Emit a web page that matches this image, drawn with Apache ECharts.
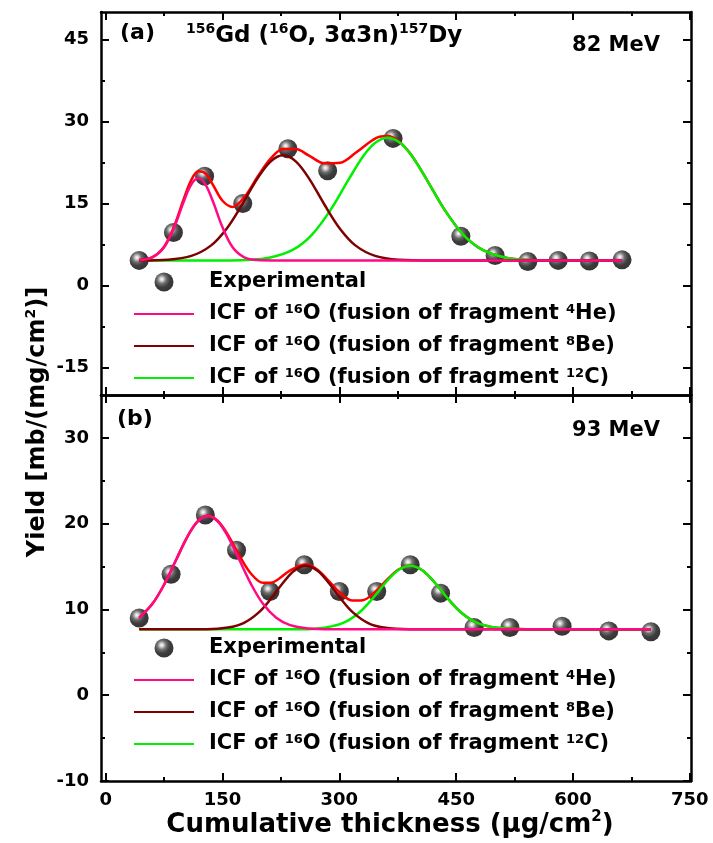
<!DOCTYPE html>
<html><head><meta charset="utf-8">
<script src="https://cdn.jsdelivr.net/npm/echarts@6/dist/echarts.min.js"></script>
<style>html,body{margin:0;padding:0;background:#fff}#c{width:713px;height:843px}</style>
</head><body><div id="c"></div>
<script>
// ---- data ----
// panel (a) 82 MeV
const thickA = [43, 87, 127, 176, 234, 285, 369, 456, 500, 542, 581, 621, 663];
const yieldA = [4.6, 9.7, 20.0, 15.0, 25.0, 21.0, 26.9, 9.0, 5.5, 4.4, 4.6, 4.5, 4.7];
const fitA_sum = [[43,4.66],[60,5.19],[75,7.1],[88,10.88],[100,15.74],[110,19.32],[119,20.9],[128,20.5],[138,18.34],[150,15.5],[163,14.38],[178,16.14],[195,19.88],[212,23.24],[228,24.95],[244,24.94],[261,23.75],[281,22.34],[301,22.45],[321,24.26],[347,26.96],[362,27.33],[377,26.3],[392,23.94],[412,19.42],[434,14.11],[459,9.33],[484,6.51],[514,5.09],[544,4.69],[580,4.6],[663,4.6]];
const fitA_He4 = [[43,4.66],[60,5.16],[75,7.0],[88,10.65],[100,15.27],[110,18.5],[119,19.6],[128,18.5],[138,15.27],[150,10.65],[163,7.0],[178,5.16],[195,4.66],[215,4.6],[400,4.6],[663,4.6]];
const fitA_Be8 = [[43,4.6],[80,4.73],[110,5.42],[135,7.3],[155,10.35],[175,14.77],[195,19.6],[212,22.7],[228,23.8],[244,22.7],[261,19.6],[281,14.77],[301,10.35],[321,7.3],[346,5.42],[376,4.73],[420,4.6],[663,4.6]];
const fitA_C12 = [[43,4.6],[150,4.6],[180,4.69],[210,5.09],[240,6.51],[265,9.33],[290,14.11],[312,19.42],[332,23.9],[347,26.18],[362,27.0],[377,26.18],[392,23.9],[412,19.42],[434,14.11],[459,9.33],[484,6.51],[514,5.09],[544,4.69],[580,4.6],[663,4.6]];
// panel (b) 93 MeV
const thickB = [43, 84, 128, 168, 211, 255, 300, 348, 391, 430, 473, 519, 586, 646, 700];
const yieldB = [9.0, 14.1, 21.0, 16.9, 12.1, 15.2, 12.1, 12.1, 15.2, 11.9, 7.9, 7.9, 8.05, 7.5, 7.4];
const fitB_sum = [[43,9.02],[60,10.65],[75,12.89],[90,15.7],[105,18.5],[118,20.27],[131,20.95],[144,20.32],[157,18.69],[172,16.23],[187,14.13],[202,13.1],[212,13.11],[222,13.55],[237,14.56],[257,15.25],[272,14.64],[287,13.28],[302,11.85],[317,11.03],[330,11.07],[346,12.04],[361,13.44],[376,14.65],[391,15.13],[406,14.6],[421,13.29],[436,11.63],[456,9.68],[477,8.43],[502,7.86],[540,7.7],[700,7.7]];
const fitB_He4 = [[43,9.02],[60,10.65],[75,12.89],[90,15.7],[105,18.5],[118,20.25],[131,20.9],[144,20.25],[157,18.5],[172,15.7],[187,12.89],[202,10.65],[219,9.02],[236,8.2],[260,7.79],[290,7.7],[450,7.7],[700,7.7]];
const fitB_Be8 = [[43,7.7],[130,7.7],[157,7.89],[177,8.41],[197,9.69],[212,11.23],[227,13.03],[242,14.52],[257,15.1],[272,14.52],[287,13.03],[302,11.23],[317,9.69],[337,8.41],[357,7.89],[390,7.7],[700,7.7]];
const fitB_C12 = [[43,7.7],[260,7.7],[280,7.86],[305,8.43],[326,9.68],[346,11.63],[361,13.29],[376,14.6],[391,15.1],[406,14.6],[421,13.29],[436,11.63],[456,9.68],[477,8.43],[502,7.86],[540,7.7],[700,7.7]];
// ticks
const xTicks = [0, 150, 300, 450, 600, 750];
const xMinor = [75, 225, 375, 525, 675];
const yTicksA = [-15, 0, 15, 30, 45];
const yMinorA = [-7.5, 7.5, 22.5, 37.5];
const yTicksB = [-10, 0, 10, 20, 30];
const yMinorB = [-5, 5, 15, 25];
const names = ['Experimental', 'ICF 4He', 'ICF 8Be', 'ICF 12C'];

// ---- chart ----
const FONT = 'DejaVu Sans';
const chart = echarts.init(document.getElementById('c'), null, {renderer: 'canvas'});
const LW = 2.5;
function xAx(grid, pos, vals, len, labels, line) {
  return {type: 'value', gridIndex: grid, position: pos, min: -6, max: 751.5,
    axisLine: {show: line, onZero: false, lineStyle: {color: '#000', width: LW}},
    axisTick: {show: true, inside: true, length: len, customValues: vals, lineStyle: {color: '#000', width: 2}},
    axisLabel: {show: labels, customValues: vals, margin: 10, color: '#000', fontFamily: FONT, fontWeight: 'bold', fontSize: 18},
    splitLine: {show: false}};
}
function yAx(grid, pos, mn, mx, vals, len, labels, line) {
  return {type: 'value', gridIndex: grid, position: pos, min: mn, max: mx,
    axisLine: {show: line, onZero: false, lineStyle: {color: '#000', width: LW}},
    axisTick: {show: true, inside: true, length: len, customValues: vals, lineStyle: {color: '#000', width: 2}},
    axisLabel: {show: labels, customValues: vals, margin: 12, color: '#000', fontFamily: FONT, fontWeight: 'bold', fontSize: 18},
    splitLine: {show: false}};
}
const ball = {type: 'radial', x: 0.38, y: 0.35, r: 0.7, colorStops: [
  {offset: 0, color: '#ffffff'}, {offset: 0.12, color: '#cfcfcf'}, {offset: 0.35, color: '#4a4a4a'},
  {offset: 0.62, color: '#0d0d0d'}, {offset: 1, color: '#000'}]};
const colors = {'ICF 4He': '#FF0A84', 'ICF 8Be': '#7F0000', 'ICF 12C': '#00F000'};
function lineS(name, data, xi, yi, color, z) {
  return {name: name, type: 'line', data: data, xAxisIndex: xi, yAxisIndex: yi, symbol: 'none',
    smooth: 0.35, lineStyle: {color: color, width: LW}, itemStyle: {color: color}, z: z};
}
function scat(data, xi, yi) {
  return {name: 'Experimental', type: 'scatter', data: data, xAxisIndex: xi, yAxisIndex: yi,
    symbolSize: 19, itemStyle: {color: ball}, z: 1};
}
const sup = {fontSize: 13, fontWeight: 'bold', fontFamily: FONT, verticalAlign: 'top', lineHeight: 13, color: '#000'};
const legendText = {
  'Experimental': 'Experimental',
  'ICF 4He': 'ICF of {s|16}O (fusion of fragment {s|4}He)',
  'ICF 8Be': 'ICF of {s|16}O (fusion of fragment {s|8}Be)',
  'ICF 12C': 'ICF of {s|16}O (fusion of fragment {s|12}C)'
};
function legend(top) {
  return {
    data: ['Experimental',
      {name: 'ICF 4He', itemStyle: {opacity: 0}},
      {name: 'ICF 8Be', itemStyle: {opacity: 0}},
      {name: 'ICF 12C', itemStyle: {opacity: 0}}],
    orient: 'vertical', left: 133, top: top, padding: 0, itemWidth: 60, itemHeight: 19, itemGap: 10,
    textStyle: {color: '#000', fontFamily: FONT, fontWeight: 'bold', fontSize: 21, lineHeight: 22, padding: [0, 0, 0, 10], rich: {s: sup}},
    formatter: function (n) { return legendText[n]; }};
}
function pairs(xs, ys) { return xs.map(function (x, i) { return [x, ys[i]]; }); }

const option = {
  animation: false,
  backgroundColor: '#fff',
  grid: [
    {left: 101, top: 12, width: 590, height: 383},
    {left: 101, top: 395, width: 590, height: 386}
  ],
  xAxis: [
    xAx(0, 'bottom', xTicks, 8, false, true), xAx(0, 'top', xTicks, 8, false, true),
    xAx(1, 'bottom', xTicks, 8, true, true), xAx(1, 'top', xTicks, 8, false, true),
    xAx(0, 'bottom', xMinor, 4, false, false), xAx(0, 'top', xMinor, 4, false, false),
    xAx(1, 'bottom', xMinor, 4, false, false), xAx(1, 'top', xMinor, 4, false, false)
  ],
  yAxis: [
    yAx(0, 'left', -20, 50, yTicksA, 8, true, true), yAx(0, 'right', -20, 50, yTicksA, 8, false, true),
    yAx(1, 'left', -10, 35, yTicksB, 8, true, true), yAx(1, 'right', -10, 35, yTicksB, 8, false, true),
    yAx(0, 'left', -20, 50, yMinorA, 4, false, false), yAx(0, 'right', -20, 50, yMinorA, 4, false, false),
    yAx(1, 'left', -10, 35, yMinorB, 4, false, false), yAx(1, 'right', -10, 35, yMinorB, 4, false, false)
  ],
  legend: [legend(271), legend(637)],
  series: [
    scat(pairs(thickA, yieldA), 0, 0),
    lineS('Fit sum', fitA_sum, 0, 0, '#FF0000', 2),
    lineS('ICF 12C', fitA_C12, 0, 0, colors['ICF 12C'], 3),
    lineS('ICF 8Be', fitA_Be8, 0, 0, colors['ICF 8Be'], 4),
    lineS('ICF 4He', fitA_He4, 0, 0, colors['ICF 4He'], 5),
    scat(pairs(thickB, yieldB), 2, 2),
    lineS('Fit sum', fitB_sum, 2, 2, '#FF0000', 2),
    lineS('ICF 12C', fitB_C12, 2, 2, colors['ICF 12C'], 3),
    lineS('ICF 8Be', fitB_Be8, 2, 2, colors['ICF 8Be'], 4),
    lineS('ICF 4He', fitB_He4, 2, 2, colors['ICF 4He'], 5)
  ],
  graphic: [
    {type: 'text', x: 120, y: 33, style: {text: '(a)', fill: '#000', font: 'bold 22px "DejaVu Sans"', verticalAlign: 'middle'}},
    {type: 'text', x: 186, y: 36, style: {text: '{s|156}Gd ({s|16}O, 3α3n){s|157}Dy', fill: '#000', font: 'bold 23px "DejaVu Sans"', verticalAlign: 'middle', lineHeight: 27,
      rich: {s: {fontSize: 14, fontWeight: 'bold', fontFamily: FONT, verticalAlign: 'top', lineHeight: 14, fill: '#000'}}}},
    {type: 'text', x: 660, y: 46, style: {text: '82 MeV', fill: '#000', font: 'bold 21px "DejaVu Sans"', align: 'right', verticalAlign: 'middle'}},
    {type: 'text', x: 117, y: 419, style: {text: '(b)', fill: '#000', font: 'bold 22px "DejaVu Sans"', verticalAlign: 'middle'}},
    {type: 'text', x: 660, y: 431, style: {text: '93 MeV', fill: '#000', font: 'bold 21px "DejaVu Sans"', align: 'right', verticalAlign: 'middle'}},
    {type: 'text', x: 390, y: 825, style: {text: 'Cumulative thickness (μg/cm{s|2})', fill: '#000', font: 'bold 26px "DejaVu Sans"', align: 'center', verticalAlign: 'middle', lineHeight: 30,
      rich: {s: {fontSize: 15, fontWeight: 'bold', fontFamily: FONT, verticalAlign: 'top', lineHeight: 15, fill: '#000'}}}},
    {type: 'text', x: 38, y: 422, rotation: Math.PI / 2, style: {text: 'Yield [mb/(mg/cm{s|2})]', fill: '#000', font: 'bold 24px "DejaVu Sans"', align: 'center', verticalAlign: 'middle', lineHeight: 28,
      rich: {s: {fontSize: 14, fontWeight: 'bold', fontFamily: FONT, verticalAlign: 'top', lineHeight: 14, fill: '#000'}}}}
  ]
};
chart.setOption(option);
</script>
</body></html>
